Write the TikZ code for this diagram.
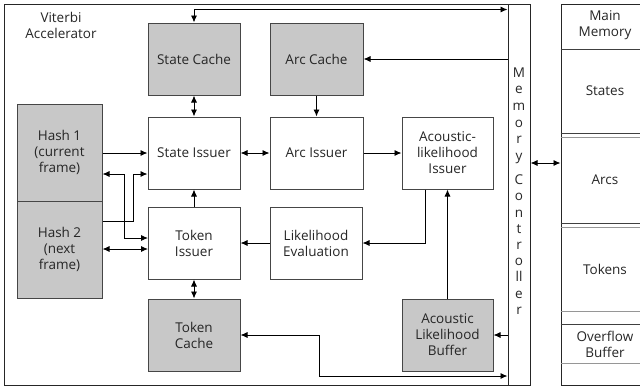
\documentclass[tikz,border=0pt]{standalone}
\usepackage{fontspec}
\setmainfont{Open Sans}
\usetikzlibrary{arrows.meta}
\definecolor{shadec}{RGB}{200,200,200}
\definecolor{bordc}{RGB}{70,70,70}
\definecolor{thinc}{RGB}{150,150,150}
\newcommand\blkfont{\fontsize{13.5}{16}\selectfont}
\tikzset{
  blk/.style={draw=bordc, line width=1pt, minimum width=92pt, minimum height=72pt,
              align=center, inner sep=0pt, font=\blkfont, text=black!85},
  shaded/.style={blk, fill=shadec},
  arr/.style={-{Latex[length=7pt,width=6pt]}, line width=0.9pt},
  arr2/.style={{Latex[length=7pt,width=6pt]}-{Latex[length=7pt,width=6pt]}, line width=0.9pt},
  lbl/.style={font=\blkfont, text=black!85, inner sep=0pt, align=center},
  mcletter/.style={font=\blkfont, text=black!85, inner sep=0pt, anchor=base},
}
\begin{document}
\begin{tikzpicture}[x=1pt,y=-1pt]
\useasboundingbox (0,0) rectangle (640,389);
\begin{scope}
\clip (0,0) rectangle (640,389);

% enclosing accelerator and the memory side
\node[draw=black!85, line width=1pt, minimum width=504pt, minimum height=381pt, inner sep=0pt] (va) at (256,194.5) {};
\node[draw=black!85, line width=1pt, minimum width=22pt, minimum height=381pt, inner sep=0pt] (mc) at (519,194.5) {};
\node[draw=black!85, line width=1pt, minimum width=88pt, minimum height=381pt, inner sep=0pt] (mm) at (605,194.5) {};

\node[lbl] (valbl) at (61,25) {Viterbi\\Accelerator};

% main memory partitions
\draw[black!75, line width=0.9pt] (mm.west |- 0,49) -- (mm.east |- 0,49);
\draw[black!75, line width=0.9pt] (mm.west |- 0,133) -- (mm.east |- 0,133);
\draw[thinc, line width=0.9pt] (mm.west |- 0,137) -- (mm.east |- 0,137);
\draw[black!75, line width=0.9pt] (mm.west |- 0,223) -- (mm.east |- 0,223);
\draw[thinc, line width=0.9pt] (mm.west |- 0,227) -- (mm.east |- 0,227);
\draw[thinc, line width=0.9pt] (mm.west |- 0,311) -- (mm.east |- 0,311);
\draw[black!75, line width=0.9pt] (mm.west |- 0,324) -- (mm.east |- 0,324);
\draw[thinc, line width=0.9pt] (mm.west |- 0,363) -- (mm.east |- 0,363);
\node[lbl] (mmlbl) at (605,25) {Main\\Memory};
\node[lbl] (mmst) at (605,91) {States};
\node[lbl] (mmarc) at (605,180) {Arcs};
\node[lbl] (mmtok) at (605,269.5) {Tokens};
\node[lbl] (mmovf) at (605,344) {Overflow\\Buffer};

% memory controller label, one letter per line
\foreach \ch [count=\i] in {M,e,m,o,r,y}
  \node[mcletter] (mca\i) at (519,{77+16.7*(\i-1)}) {\ch};
\foreach \ch [count=\i] in {C,o,n,t,r,o,ll,e,r}
  \node[mcletter] (mcb\i) at (519,{184.7+16.2*(\i-1)}) {\ch};

% blocks
\node[shaded] (sc) at (194,59) {State Cache};
\node[shaded, minimum width=93pt] (ac) at (316.5,59) {Arc Cache};
\node[blk] (si) at (194,153) {State Issuer};
\node[blk, minimum width=93pt] (ai) at (316.5,153) {Arc Issuer};
\node[blk, minimum width=91pt] (ali) at (447.5,153) {Acoustic-\\likelihood\\Issuer};
\node[shaded, minimum width=85pt, minimum height=97pt] (h1) at (59.5,152.5) {Hash 1\\(current\\frame)};
\node[shaded, minimum width=85pt, minimum height=97pt] (h2) at (59.5,249.5) {Hash 2\\(next\\frame)};
\node[blk] (ti) at (194,243) {Token\\Issuer};
\node[blk] (le) at (316,243) {Likelihood\\Evaluation};
\node[shaded] (tc) at (194,335) {Token\\Cache};
\node[shaded, minimum width=91pt] (alb) at (447.5,335) {Acoustic\\Likelihood\\Buffer};

% routing points
\coordinate (hA) at (124,174);
\coordinate (hB) at (133,221);
\coordinate (tiA) at (148,238);
\coordinate (tiB) at (148,249);
\coordinate (tcbend) at (319,376);
\coordinate (mmlink) at (545,163);

% connectors
\draw[arr2] (sc.north) |- ([yshift=-6pt]mc.north west);
\draw[arr] (mc.west |- ac.east) -- (ac.east);
\draw[arr] (ac.south) -- (ai.north);
\draw[arr2] (sc.south) -- (si.north);
\draw[arr] (h1.east |- si.west) -- (si.west);
\draw[arr2] (si.east) -- (ai.west);
\draw[arr] (ai.east) -- (ali.west);
\draw[arr] ([xshift=-22.5pt]ali.south) |- (le.east);
\draw[arr] (alb.north) -- (ali.south);
\draw[arr] (le.west) -- (ti.east);
\draw[arr] (ti.north) -- (si.south);
\draw[arr2] (ti.south) -- (tc.north);
\draw[arr2] (tc.east) -| (tcbend) -- (mc.west |- tcbend);
\draw[arr] (mc.west |- alb.east) -- (alb.east);
\draw[arr2] (mc.east |- mmlink) -- (mm.west |- mmlink);
\draw[arr2] (h1.east |- hA) -- (hA) |- (tiA);
\draw[arr] (h2.east |- hB) -- (hB) |- (si.west |- hA);
\draw[arr2] (h2.east |- tiB) -- (tiB);
\end{scope}
\end{tikzpicture}
\end{document}
